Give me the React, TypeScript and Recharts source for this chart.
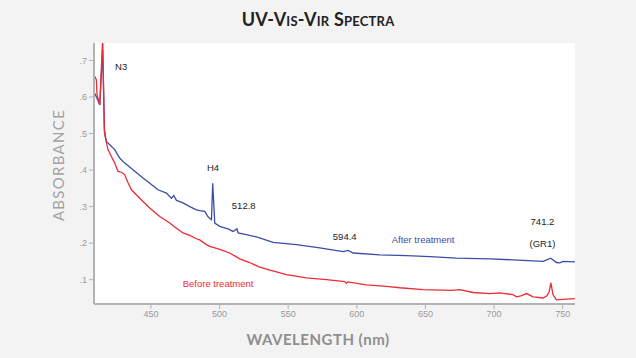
import { LineChart, Line, XAxis, YAxis, CartesianGrid, ReferenceDot } from 'recharts';

// [wavelength nm, absorbance]
const beforeTreatment = [
    [408.5, 0.66], [410.2, 0.647], [410.7, 0.606], [412.7, 0.579], [414.8, 0.76],
    [416.1, 0.502], [416.7, 0.49], [418.7, 0.456], [421.2, 0.437], [423.6, 0.419],
    [426.0, 0.396], [428.5, 0.394], [430.9, 0.387], [433.3, 0.365], [435.8, 0.346],
    [441.8, 0.323], [449.1, 0.296], [456.4, 0.273], [463.7, 0.255], [468.6, 0.241],
    [473.4, 0.228], [478.3, 0.221], [483.1, 0.212], [485.5, 0.209], [490.4, 0.196],
    [492.8, 0.191], [500.1, 0.183], [507.4, 0.173], [514.7, 0.157], [521.9, 0.147],
    [528.8, 0.135], [536.1, 0.127], [548.7, 0.114], [563.3, 0.105], [577.9, 0.1],
    [591.2, 0.095], [592.5, 0.09], [593.4, 0.094], [607.0, 0.086], [621.6, 0.082],
    [631.3, 0.078], [648.3, 0.073], [669.0, 0.071], [675.0, 0.073], [684.7, 0.065],
    [697.0, 0.062], [704.2, 0.064], [713.9, 0.059], [716.4, 0.053], [719.5, 0.056],
    [723.7, 0.062], [728.5, 0.053], [735.8, 0.05], [738.5, 0.056], [740.1, 0.066],
    [741.4, 0.091], [743.0, 0.059], [745.5, 0.045], [752.8, 0.047], [758.9, 0.048],
];

const afterTreatment = [
    [409.0, 0.61], [410.8, 0.595], [412.7, 0.578], [414.8, 0.73], [416.1, 0.51],
    [417.5, 0.478], [420.0, 0.469], [423.6, 0.456], [427.2, 0.433], [430.9, 0.419],
    [436.9, 0.401], [444.2, 0.378], [451.5, 0.357], [455.1, 0.346], [461.3, 0.337],
    [464.9, 0.323], [466.6, 0.33], [468.6, 0.317], [473.4, 0.31], [478.3, 0.3],
    [483.1, 0.291], [485.5, 0.289], [489.2, 0.287], [491.6, 0.272], [494.1, 0.264],
    [495.0, 0.364], [496.5, 0.255], [500.1, 0.246], [506.2, 0.239], [509.8, 0.232],
    [512.7, 0.239], [513.5, 0.228], [519.6, 0.223], [526.9, 0.217], [539.0, 0.202],
    [556.0, 0.196], [573.0, 0.187], [590.0, 0.177], [593.6, 0.18], [597.3, 0.173],
    [616.7, 0.168], [636.2, 0.166], [653.2, 0.163], [672.6, 0.159], [696.9, 0.157],
    [721.2, 0.153], [735.8, 0.15], [741.4, 0.159], [745.5, 0.147], [747.9, 0.146],
    [750.3, 0.15], [758.9, 0.149],
];

const xTicks = [450, 500, 550, 600, 650, 700, 750];
const yTicks = [0.1, 0.2, 0.3, 0.4, 0.5, 0.6, 0.7];

// peak / series annotations: [text, nm, absorbance, color]
const notes: [string, number, number, string][] = [
    ['N3', 428.3, 0.683, '#222'],
    ['H4', 495.2, 0.407, '#222'],
    ['512.8', 517.6, 0.304, '#222'],
    ['594.4', 591.2, 0.217, '#222'],
    ['After treatment', 648.3, 0.209, '#3b4ea6'],
    ['741.2', 735.3, 0.259, '#222'],
    ['(GR1)', 735.3, 0.2, '#222'],
    ['Before treatment', 498.9, 0.088, '#ee2a35'],
];

const toRows = (pts: number[][]) => pts.map(([nm, abs]) => ({ nm, abs }));

const axisGrey = '#b3b3b3';
const tickStyle = { fill: '#9a9a9a', fontSize: 9, fontFamily: 'Liberation Sans, Arial, sans-serif' };

export default function App() {
    return (
        <div style={{ position: 'absolute', left: 0, top: 0, width: 636, height: 358, background: '#f3f3f3', fontFamily: 'Lato, sans-serif' }}>
            <div style={{ position: 'absolute', left: 0, top: 8, width: 636, textAlign: 'center', fontSize: 18, fontWeight: 700, fontVariant: 'small-caps', color: '#222', letterSpacing: 0.2 }}>
                UV-Vis-Vir Spectra
            </div>
            <div style={{ position: 'absolute', left: 58, top: 165, transform: 'translate(-50%, -50%) rotate(-90deg)', fontSize: 15, color: '#a3a3a3', letterSpacing: 1.3, whiteSpace: 'nowrap' }}>
                ABSORBANCE
            </div>
            <div style={{ position: 'absolute', left: 0, top: 330, width: 636, textAlign: 'center', fontSize: 15, fontWeight: 700, color: '#8e8e8e', letterSpacing: 0.5 }}>
                WAVELENGTH (nm)
            </div>
            <LineChart width={636} height={358} margin={{ top: 43, right: 61, left: 60, bottom: 24 }} style={{ position: 'absolute', left: 0, top: 0 }}>
                <CartesianGrid fill="#ffffff" stroke="none" />
                <XAxis
                    dataKey="nm"
                    type="number"
                    domain={[408.5, 759]}
                    allowDataOverflow
                    ticks={xTicks}
                    height={30}
                    tickSize={5}
                    axisLine={{ stroke: axisGrey, strokeWidth: 2 }}
                    tickLine={{ stroke: axisGrey }}
                    tick={tickStyle}
                />
                <YAxis
                    dataKey="abs"
                    type="number"
                    domain={[0.0335, 0.7476]}
                    allowDataOverflow
                    ticks={yTicks}
                    width={34}
                    tickSize={5}
                    axisLine={{ stroke: axisGrey, strokeWidth: 2 }}
                    tickLine={{ stroke: axisGrey }}
                    tick={tickStyle}
                    tickFormatter={(v: number) => '.' + Math.round(v * 10)}
                />
                <Line data={toRows(afterTreatment)} dataKey="abs" stroke="#3b4ea6" strokeWidth={1.3} dot={false} isAnimationActive={false} />
                <Line data={toRows(beforeTreatment)} dataKey="abs" stroke="#ee2a35" strokeWidth={1.3} dot={false} isAnimationActive={false} />
                {notes.map(([text, nm, abs, color]) => (
                    <ReferenceDot
                        key={text}
                        x={nm}
                        y={abs}
                        r={0}
                        stroke="none"
                        fill="none"
                        label={{ value: text, position: 'center', fill: color, fontSize: 9.5, fontFamily: 'Liberation Sans, Arial, sans-serif' }}
                    />
                ))}
            </LineChart>
        </div>
    );
}
